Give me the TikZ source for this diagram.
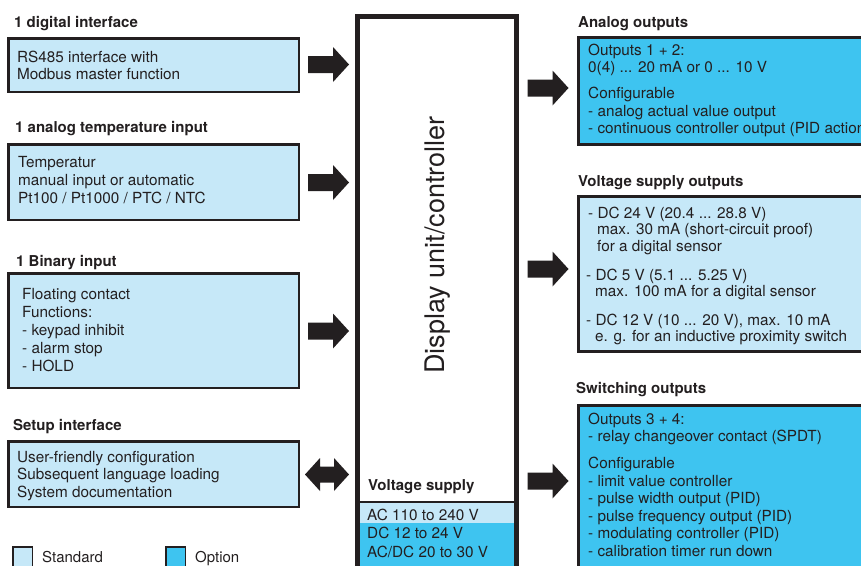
\documentclass[tikz,border=0pt]{standalone}
\usepackage{fontspec}
\setmainfont{TeX Gyre Heros}
\definecolor{stdblue}{HTML}{C6E8F8}
\definecolor{optblue}{HTML}{3EC4F0}
\definecolor{ink}{HTML}{231F20}
\newcommand\ptext[2]{\parbox[t]{320pt}{\fontsize{15.3}{#1}\selectfont\raggedright #2\par}}
\tikzset{
  stdbox/.style={draw=ink, line width=2.5pt, fill=stdblue},
  optbox/.style={draw=ink, line width=3pt, fill=optblue},
  optboxs/.style={draw=ink, line width=3pt, fill=stdblue},
  head/.style={anchor=base west, inner sep=0pt, font=\fontsize{15}{18}\selectfont\bfseries, text=ink},
  body/.style={anchor=base west, inner sep=0pt, text=ink},
  rarrow/.pic={\fill[ink] (-20.5,-8.5) -- (4.5,-8.5) -- (4.5,-17.5) -- (20.5,0) -- (4.5,17.5) -- (4.5,8.5) -- (-20.5,8.5) -- cycle;},
  darrow/.pic={\fill[ink] (-22,0) -- (-7,-16.5) -- (-7,-8) -- (7,-8) -- (7,-16.5) -- (22,0) -- (7,16.5) -- (7,8) -- (-7,8) -- (-7,16.5) -- cycle;}
}
\begin{document}
\begin{tikzpicture}[x=1pt,y=-1pt]
\useasboundingbox (0,0) rectangle (861,565);
\clip (0,0) rectangle (861,565);
% left boxes
\path[stdbox] (8.25,38.25) rectangle (298.75,91.75);
\path[stdbox] (8.25,144.25) rectangle (298.75,219.75);
\path[stdbox] (8.25,273.25) rectangle (298.75,387.75);
\path[stdbox] (8.25,441.25) rectangle (298.75,506.75);
\node[head] (h1) at (14,27) {1 digital interface};
\node[head] (h2) at (15,132) {1 analog temperature input};
\node[head] (h3) at (16,266) {1 Binary input};
\node[head] (h4) at (13,430) {Setup interface};
\node[body] (t1) at (17,62) {\ptext{17}{RS485 interface with\\Modbus master function}};
\node[body] (t2) at (18,167) {\ptext{18}{Temperatur\\manual input or automatic\\Pt100 / Pt1000 / PTC / NTC}};
\node[body] (t3) at (22,299) {\ptext{18}{Floating contact\\Functions:\\- keypad inhibit\\- alarm stop\\- HOLD}};
\node[body] (t4) at (17,462) {\ptext{17.5}{User-friendly configuration\\Subsequent language loading\\System documentation}};
% left arrows
\pic at (328.5,64.5) {rarrow};
\pic at (328.5,182.5) {rarrow};
\pic at (328.5,331) {rarrow};
\pic at (327,474.5) {darrow};
% central box
\fill[stdblue] (359,502) rectangle (515,523);
\fill[optblue] (359,523) rectangle (515,580);
\draw[ink, line width=2pt] (358,502) -- (516,502);
\draw[ink, line width=5pt] (357.5,600) -- (357.5,16.5) -- (516.5,16.5) -- (516.5,600);
\node[rotate=90, inner sep=0pt, font=\fontsize{27}{32}\selectfont, text=ink] (ctrl) at (438,245) {Display unit/controller};
\node[head] (vs) at (368,490) {Voltage supply};
\node[body] (vs1) at (367,520) {\ptext{18.5}{AC 110 to 240 V\\DC 12 to 24 V\\AC/DC 20 to 30 V}};
% right boxes
\path[optbox] (578.5,37.5) rectangle (900,144.5);
\path[optboxs] (578.5,196.5) rectangle (900,351.5);
\path[optbox] (578.5,405.5) rectangle (900,600);
\node[head] (h5) at (578,27) {Analog outputs};
\node[head] (h6) at (578,186) {Voltage supply outputs};
\node[head] (h7) at (576,393) {Switching outputs};
\node[body] (t5) at (588,55) {\ptext{17.5}{Outputs 1 + 2:\\0(4) ... 20 mA or 0 ... 10 V\\[8.5pt]Configurable\\- analog actual value output\\- continuous controller output (PID action)}};
\node[body] (t6a) at (588,218) {\ptext{16.5}{- DC 24 V (20.4 ... 28.8 V)\\\hspace*{9pt}max. 30 mA (short-circuit proof)\\\hspace*{9pt}for a digital sensor}};
\node[body] (t6b) at (586,280) {\ptext{16}{- DC 5 V (5.1 ... 5.25 V)\\\hspace*{9pt}max. 100 mA for a digital sensor}};
\node[body] (t6c) at (586,325) {\ptext{16}{- DC 12 V (10 ... 20 V), max. 10 mA\\\hspace*{9pt}e. g. for an inductive proximity switch}};
\node[body] (t7) at (588,424) {\ptext{17.5}{Outputs 3 + 4:\\- relay changeover contact (SPDT)\\[9.5pt]Configurable\\- limit value controller\\- pulse width output (PID)\\- pulse frequency output (PID)\\- modulating controller (PID)\\- calibration timer run down}};
% right arrows
\pic at (548,88) {rarrow};
\pic at (548,269) {rarrow};
\pic at (548,481) {rarrow};
% legend
\path[draw=ink, line width=1.5pt, fill=stdblue] (12.75,546.75) rectangle (32.25,575);
\path[draw=ink, line width=1.5pt, fill=optblue] (165.75,546.75) rectangle (185.25,575);
\node[body] (l1) at (42,562) {\fontsize{15}{18}\selectfont Standard};
\node[body] (l2) at (195,562) {\fontsize{15}{18}\selectfont Option};
\end{tikzpicture}
\end{document}
